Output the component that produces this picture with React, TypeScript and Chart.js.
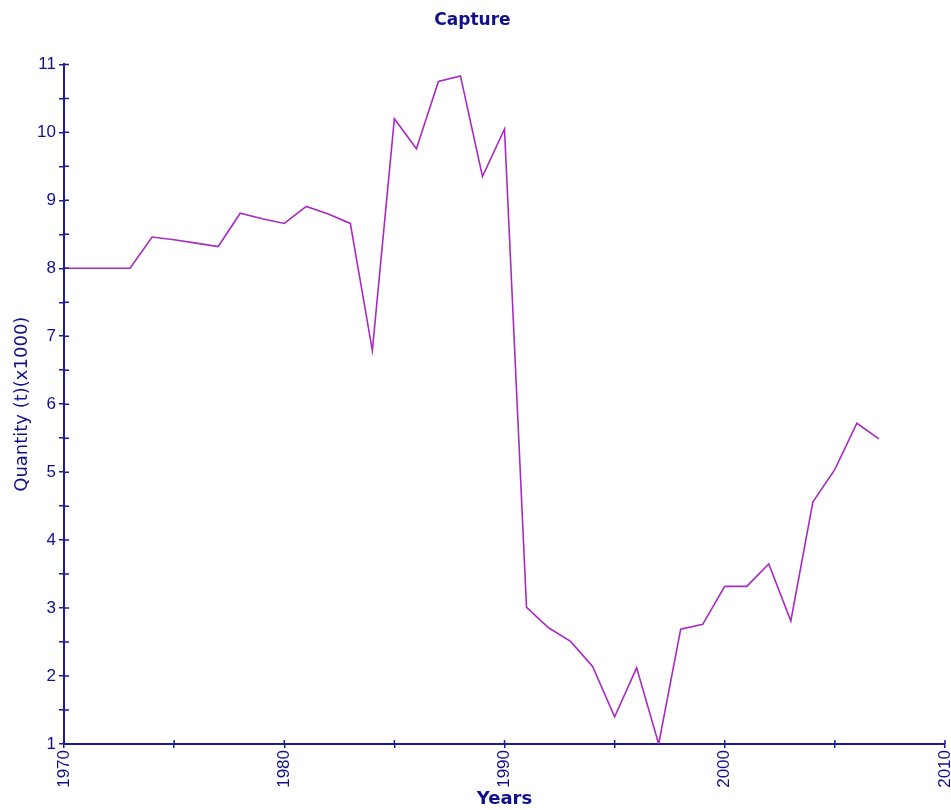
import React, { useEffect, useRef } from "react";
import { Chart, registerables } from "chart.js";

Chart.register(...registerables);

const years: number[] = [
  1970, 1971, 1972, 1973, 1974, 1975, 1976, 1977, 1978, 1979,
  1980, 1981, 1982, 1983, 1984, 1985, 1986, 1987, 1988, 1989,
  1990, 1991, 1992, 1993, 1994, 1995, 1996, 1997, 1998, 1999,
  2000, 2001, 2002, 2003, 2004, 2005, 2006, 2007,
];
const capture: number[] = [
  8.0, 8.0, 8.0, 8.0, 8.46, 8.42, 8.37, 8.32, 8.81, 8.73,
  8.66, 8.91, 8.8, 8.66, 6.79, 10.2, 9.76, 10.75, 10.83, 9.35,
  10.05, 3.01, 2.71, 2.51, 2.14, 1.4, 2.12, 1.0, 2.69, 2.76,
  3.32, 3.32, 3.65, 2.81, 4.56, 5.04, 5.72, 5.49,
];

const NAVY = "#10108a";
const AXIS = "#1c1c94";
const LINE = "#a82ac4";
const TICK_FONT = "Liberation Sans, Arial, sans-serif";
const TITLE_FONT = "DejaVu Sans, Verdana, sans-serif";

const innerTicks = {
  id: "innerTicks",
  afterDraw(chart: any) {
    const { ctx, chartArea, scales } = chart;
    ctx.save();
    ctx.strokeStyle = AXIS;
    ctx.lineWidth = 1.5;
    ctx.beginPath();
    for (const t of scales.x.ticks) {
      const px = scales.x.getPixelForValue(t.value);
      ctx.moveTo(px, chartArea.bottom);
      ctx.lineTo(px, chartArea.bottom - 4);
    }
    for (const t of scales.y.ticks) {
      const py = scales.y.getPixelForValue(t.value);
      ctx.moveTo(chartArea.left, py);
      ctx.lineTo(chartArea.left + 5, py);
    }
    ctx.stroke();
    ctx.restore();
  },
};

export default function App() {
  const ref = useRef<HTMLCanvasElement | null>(null);
  useEffect(() => {
    document.body.style.margin = "0";
    const canvas = ref.current!;
    const chart = new Chart(canvas, {
      type: "line",
      data: {
        datasets: [
          {
            data: years.map((y, i) => ({ x: y, y: capture[i] })),
            borderColor: LINE,
            borderWidth: 1.6,
            pointRadius: 0,
            tension: 0,
            fill: false,
          },
        ],
      },
      plugins: [innerTicks],
      options: {
        animation: false,
        responsive: false,
        maintainAspectRatio: false,
        layout: { padding: { left: 0, right: 6, top: 0, bottom: 0 } },
        plugins: {
          legend: { display: false },
          tooltip: { enabled: false },
          title: {
            display: true,
            text: "Capture",
            color: NAVY,
            font: { family: TITLE_FONT, size: 17, weight: "bold", lineHeight: 1.2 },
            padding: { top: 10, bottom: 34 },
          },
        },
        scales: {
          x: {
            type: "linear",
            min: 1970,
            max: 2010,
            border: { display: true, color: AXIS, width: 2 },
            grid: { display: true, drawOnChartArea: false, color: AXIS, tickLength: 4, lineWidth: 1.5 },
            ticks: {
              stepSize: 5,
              autoSkip: false,
              minRotation: 90,
              maxRotation: 90,
              padding: 2,
              color: NAVY,
              font: { family: TICK_FONT, size: 17 },
              callback: (v: any) => (Number(v) % 10 === 0 ? String(v) : ""),
            },
            title: {
              display: true,
              text: "Years",
              color: NAVY,
              font: { family: TITLE_FONT, size: 18, weight: "bold", lineHeight: 1.2 },
              padding: { top: 0, bottom: 0 },
            },
            afterFit: (s: any) => {
              s.height = 66;
              s.paddingLeft = 0;
              s.paddingRight = 0;
            },
          },
          y: {
            type: "linear",
            min: 1,
            max: 11,
            border: { display: true, color: AXIS, width: 2 },
            grid: { display: true, drawOnChartArea: false, color: AXIS, tickLength: 5, lineWidth: 1.5 },
            ticks: {
              stepSize: 0.5,
              autoSkip: false,
              padding: 3,
              color: NAVY,
              font: { family: TICK_FONT, size: 17 },
              callback: (v: any) => (Number.isInteger(Number(v)) ? String(v) : ""),
            },
            title: {
              display: true,
              text: "Quantity (t)(x1000)",
              color: NAVY,
              font: { family: TITLE_FONT, size: 18, lineHeight: 1.2 },
              padding: { top: 12, bottom: 0 },
            },
            afterFit: (s: any) => {
              s.width = 64;
              s.paddingTop = 0;
              s.paddingBottom = 0;
            },
          },
        },
      },
    });
    return () => chart.destroy();
  }, []);
  return (
    <div style={{ width: 951, height: 810 }}>
      <canvas ref={ref} width={951} height={810} style={{ display: "block" }} />
    </div>
  );
}
